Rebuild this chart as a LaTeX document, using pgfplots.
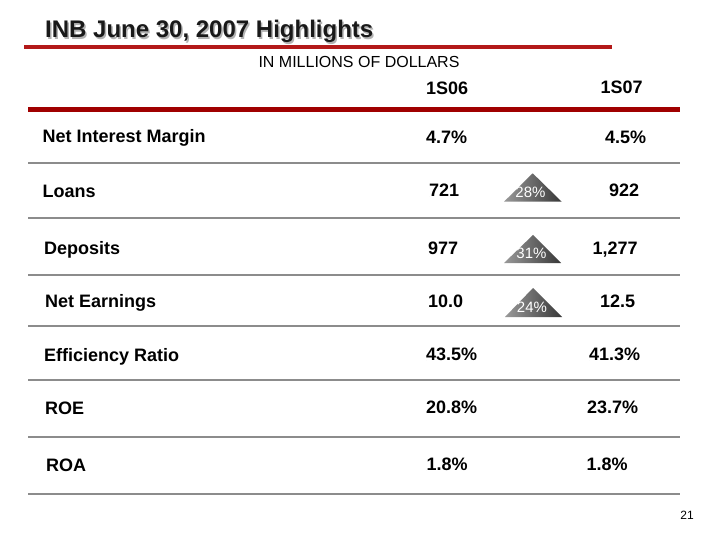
\documentclass[border=0pt]{standalone}
\usepackage{fontspec}
\setmainfont{Liberation Sans}
\usepackage{pgfplots}
\usepackage{pgfplotstable}
\pgfplotsset{compat=1.18}
\definecolor{titlered}{HTML}{B31919}
\definecolor{barred}{HTML}{A00000}
\definecolor{rulegray}{HTML}{8C8C8C}

% Row labels (x = left edge, y = baseline, in slide pixels)
\pgfplotstableread[col sep=semicolon]{
x;y;t
42.5;142.7;Net Interest Margin
42.5;197.3;Loans
44;255;Deposits
45;307.3;Net Earnings
44;361.5;Efficiency Ratio
45;414;ROE
46;471.5;ROA
}\labels
% 1S06 values
\pgfplotstableread[col sep=semicolon]{
x;y;t
426;143.3;4.7\%
429;196.5;721
428;255;977
428;307.3;10.0
426;360.7;43.5\%
426;413.3;20.8\%
426.5;470.7;1.8\%
}\firsthalf
% 1S07 values
\pgfplotstableread[col sep=semicolon]{
x;y;t
605;143.3;4.5\%
609;196.5;922
592.5;255;{1,277}
600;307.3;12.5
589;360.7;41.3\%
587;413.3;23.7\%
586.5;470.7;1.8\%
}\secondhalf
% column headers
\pgfplotstableread[col sep=semicolon]{
x;y;t
426;95;1S06
600.5;93.3;1S07
}\headers
% growth labels in triangles (x = centre, y = baseline)
\pgfplotstableread[col sep=semicolon]{
x;y;t
530.5;198;28\%
531.5;259;31\%
532;312.7;24\%
}\growth

\pgfplotsset{txt/.style={only marks, mark=*, mark size=0pt, mark options={draw=none, fill=none},
  point meta=explicit symbolic, nodes near coords}}

\begin{document}
\begin{tikzpicture}
\begin{axis}[
  scale only axis, width=720bp, height=540bp,
  xmin=0, xmax=720, ymin=0, ymax=540, y dir=reverse,
  hide axis, clip=false,
  every node near coord/.append style={anchor=base west, inner sep=0pt, text=black},
]
% background
\addplot[fill=white, draw=none] coordinates {(0,0) (720,0) (720,540) (0,540)} --cycle;
% title underline
\addplot[titlered, line width=4bp] coordinates {(24,47) (612,47)};
% header rule
\addplot[barred, line width=5bp] coordinates {(28,110) (680,110)};
% row separators
\addplot[rulegray, line width=1.5bp] coordinates {(28,163) (680,163)};
\addplot[rulegray, line width=1.5bp] coordinates {(28,218) (680,218)};
\addplot[rulegray, line width=1.5bp] coordinates {(28,275) (680,275)};
\addplot[rulegray, line width=1.5bp] coordinates {(28,326) (680,326)};
\addplot[rulegray, line width=1.5bp] coordinates {(28,380) (680,380)};
\addplot[rulegray, line width=1.5bp] coordinates {(28,437) (680,437)};
\addplot[rulegray, line width=1.5bp] coordinates {(28,494) (680,494)};
% triangles
\addplot[draw=none, left color=black!40, right color=black!78] coordinates {(504,201.7) (532.7,173.3) (561.7,201.7)} --cycle;
\addplot[draw=none, left color=black!40, right color=black!78] coordinates {(504,263) (533,235) (561,263)} --cycle;
\addplot[draw=none, left color=black!40, right color=black!78] coordinates {(505,317) (533,288) (562,317)} --cycle;
% title shadow and title
\addplot[txt, every node near coord/.append style={text=black!30, font=\bfseries\fontsize{24bp}{24bp}\selectfont}]
  coordinates {(46.5,39.5) [INB June 30, 2007 Highlights]};
\addplot[txt, every node near coord/.append style={text=black!90, font=\bfseries\fontsize{24bp}{24bp}\selectfont}]
  coordinates {(45,38) [INB June 30, 2007 Highlights]};
% subtitle
\addplot[txt, every node near coord/.append style={anchor=center, font=\fontsize{16bp}{16bp}\selectfont}]
  coordinates {(359,62) [IN MILLIONS OF DOLLARS]};
% headers
\addplot[txt, every node near coord/.append style={font=\bfseries\fontsize{18bp}{18bp}\selectfont}]
  table[x=x, y=y, meta=t] {\headers};
% labels
\addplot[txt, every node near coord/.append style={font=\bfseries\fontsize{18bp}{18bp}\selectfont}]
  table[x=x, y=y, meta=t] {\labels};
\addplot[txt, every node near coord/.append style={font=\bfseries\fontsize{18bp}{18bp}\selectfont}]
  table[x=x, y=y, meta=t] {\firsthalf};
\addplot[txt, every node near coord/.append style={font=\bfseries\fontsize{18bp}{18bp}\selectfont}]
  table[x=x, y=y, meta=t] {\secondhalf};
% growth percentages
\addplot[txt, every node near coord/.append style={anchor=base, text=white, font=\fontsize{15bp}{15bp}\selectfont}]
  table[x=x, y=y, meta=t] {\growth};
% page number
\addplot[txt, every node near coord/.append style={anchor=center, font=\fontsize{12bp}{12bp}\selectfont}]
  coordinates {(687,515) [21]};
\end{axis}
\end{tikzpicture}
\end{document}
